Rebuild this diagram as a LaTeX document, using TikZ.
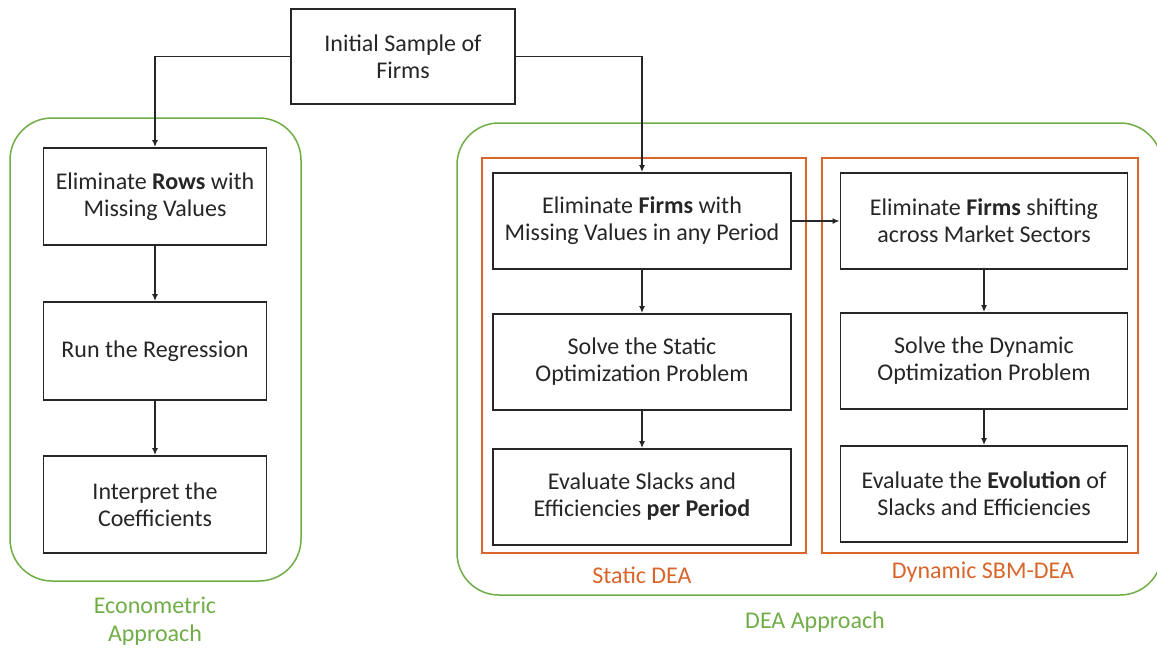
\documentclass[tikz,border=0pt]{standalone}
\usepackage{fontspec}
\setmainfont{Carlito}
\usetikzlibrary{arrows.meta}
\definecolor{grn}{HTML}{70AD47}
\definecolor{org}{HTML}{D9652B}
\definecolor{ink}{HTML}{262626}
\tikzset{
  stepbox/.style={draw=ink, line width=1.8pt, align=center, inner sep=0pt,
    font=\fontsize{24}{27}\selectfont, text=ink},
  groupbox/.style={draw=grn, line width=1.5pt, rounded corners=42pt},
  subbox/.style={draw=org, line width=1.5pt},
  grplabel/.style={text=grn, align=center, font=\fontsize{24}{28}\selectfont},
  sublabel/.style={text=org, align=center, font=\fontsize{24}{28}\selectfont},
  conn/.style={draw=ink, line width=1.5pt, -{Latex[length=7pt,width=6pt]}}
}
\begin{document}
\begin{tikzpicture}[x=1pt,y=-1pt]
\useasboundingbox (0,0) rectangle (1157,649);
% groups
\draw[groupbox] (10,118) rectangle (301,581);
\draw[groupbox] (457,123) rectangle (1162,595);
\draw[subbox] (482,158) rectangle (806,553);
\draw[subbox] (822,158) rectangle (1138,553);
% labels
\node[grplabel] (lblE) at (155,621) {Econometric\\Approach};
\node[grplabel] (lblD) at (815,622) {DEA Approach};
\node[sublabel] (lblS) at (642,575) {Static DEA};
\node[sublabel] (lblY) at (983,572) {Dynamic SBM-DEA};
% nodes
\node[stepbox, minimum width=224pt, minimum height=95pt] (top) at (403,56.5) {Initial Sample of\\Firms};
\node[stepbox, minimum width=223pt, minimum height=97pt] (L1) at (155,196.5) {Eliminate \textbf{Rows} with\\Missing Values};
\node[stepbox, minimum width=223pt, minimum height=98pt] (L2) at (155,351) {Run the Regression};
\node[stepbox, minimum width=223pt, minimum height=97pt] (L3) at (155,504.5) {Interpret the\\Coefficients};
\node[stepbox, minimum width=298pt, minimum height=96pt] (S1) at (642,221) {Eliminate \textbf{Firms} with\\Missing Values in any Period};
\node[stepbox, minimum width=298pt, minimum height=96pt] (S2) at (642,362) {Solve the Static\\Optimization Problem};
\node[stepbox, minimum width=298pt, minimum height=96pt] (S3) at (642,497) {Evaluate Slacks and\\Efficiencies \textbf{per Period}};
\node[stepbox, minimum width=287pt, minimum height=96pt] (D1) at (984,221) {Eliminate \textbf{Firms} shifting\\across Market Sectors};
\node[stepbox, minimum width=287pt, minimum height=96pt] (D2) at (984,361) {Solve the Dynamic\\Optimization Problem};
\node[stepbox, minimum width=287pt, minimum height=96pt] (D3) at (984,494) {Evaluate the \textbf{Evolution} of\\Slacks and Efficiencies};
% connectors
\draw[conn] (top.west) -| (L1.north);
\draw[conn] (top.east) -| (S1.north);
\draw[conn] (L1) -- (L2);
\draw[conn] (L2) -- (L3);
\draw[conn] (S1) -- (S2);
\draw[conn] (S2) -- (S3);
\draw[conn] (D1) -- (D2);
\draw[conn] (D2) -- (D3);
\draw[conn] (S1.east) -- (D1.west);
\end{tikzpicture}
\end{document}
